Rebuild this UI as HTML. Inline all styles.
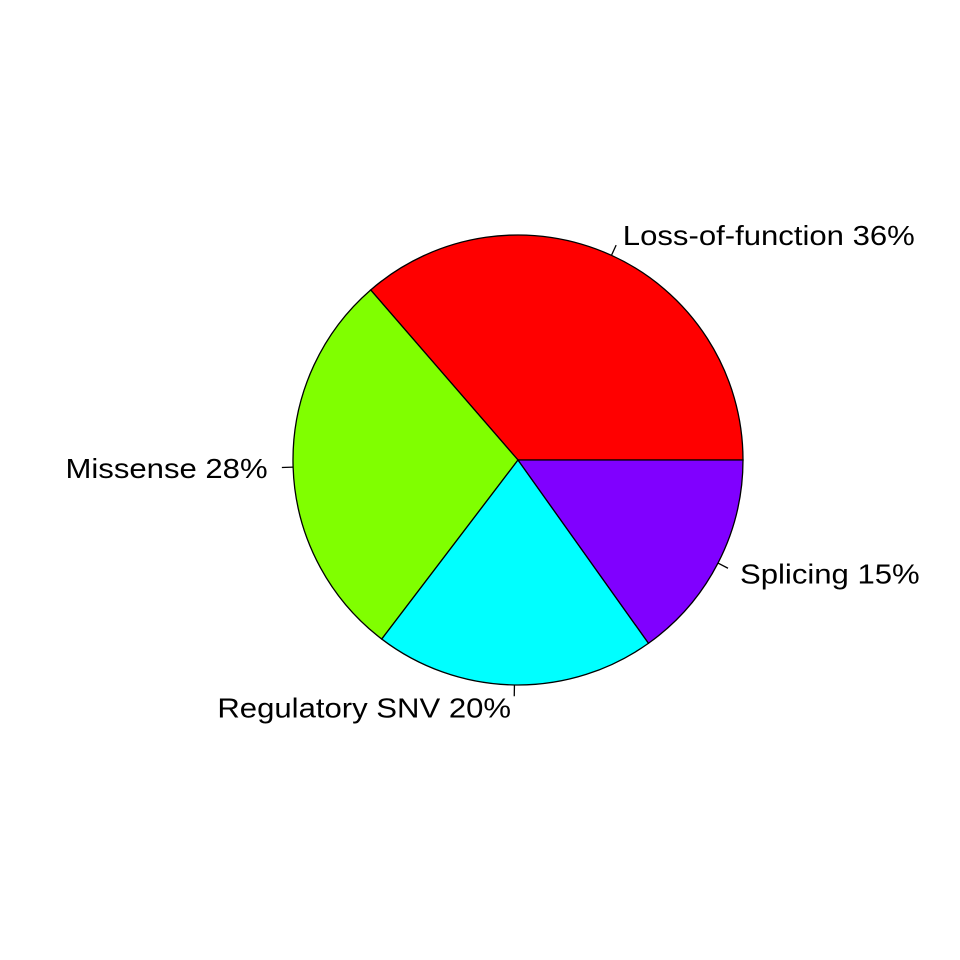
<!DOCTYPE html>
<html><head><meta charset="utf-8"><style>
html,body{margin:0;padding:0;background:#fff;}
svg{display:block;}
text{font-family:"Liberation Sans",sans-serif;font-size:28px;fill:#000;}
</style></head><body>
<svg id="chart" width="960" height="960" viewBox="0 0 960 960"></svg>
<script>
const categories = ["Loss-of-function", "Missense", "Regulatory SNV", "Splicing"];
const values = [36, 28, 20, 15];
const labels = ["Loss-of-function 36%", "Missense 28%", "Regulatory SNV 20%", "Splicing 15%"];
const colors = ["#FF0000", "#80FF00", "#00FFFF", "#8000FF"];

const svg = document.getElementById('chart');
const NS = 'http://www.w3.org/2000/svg';
const cx = 518, cy = 460, R = 225;
const total = values.reduce((a, b) => a + b, 0);
function pt(frac, r) {
  const a = frac * 2 * Math.PI;
  return [cx + r * Math.cos(a), cy - r * Math.sin(a)];
}
let cum = 0;
values.forEach((v, i) => {
  const f0 = cum / total, f1 = (cum + v) / total;
  cum += v;
  const p0 = pt(f0, R), p1 = pt(f1, R);
  const large = (f1 - f0) > 0.5 ? 1 : 0;
  const path = document.createElementNS(NS, 'path');
  path.setAttribute('d', `M${cx},${cy} L${p0[0]},${p0[1]} A${R},${R} 0 ${large} 0 ${p1[0]},${p1[1]} Z`);
  path.setAttribute('fill', colors[i]);
  path.setAttribute('stroke', '#000');
  path.setAttribute('stroke-width', '1.3');
  
  
  svg.appendChild(path);

  const mid = (f0 + f1) / 2;
  const l0 = pt(mid, R), l1 = pt(mid, R * 1.05), lt = pt(mid, R * 1.1);
  const line = document.createElementNS(NS, 'line');
  line.setAttribute('x1', l0[0]); line.setAttribute('y1', l0[1]);
  line.setAttribute('x2', l1[0]); line.setAttribute('y2', l1[1]);
  line.setAttribute('stroke', '#000');
  line.setAttribute('stroke-width', '1.3');
  
  
  svg.appendChild(line);

  const t = document.createElementNS(NS, 'text');
  const right = Math.cos(mid * 2 * Math.PI) > 0;
  t.setAttribute('x', right ? lt[0] + 2 : lt[0] - 3);
  t.setAttribute('y', lt[1] + 10);
  t.setAttribute('text-anchor', right ? 'start' : 'end');
  t.textContent = labels[i];
  
  
  svg.appendChild(t);
  const w = t.getComputedTextLength();
  t.setAttribute('textLength', (w * 1.11).toFixed(1));
  t.setAttribute('lengthAdjust', 'spacingAndGlyphs');
});
</script>
</body></html>
